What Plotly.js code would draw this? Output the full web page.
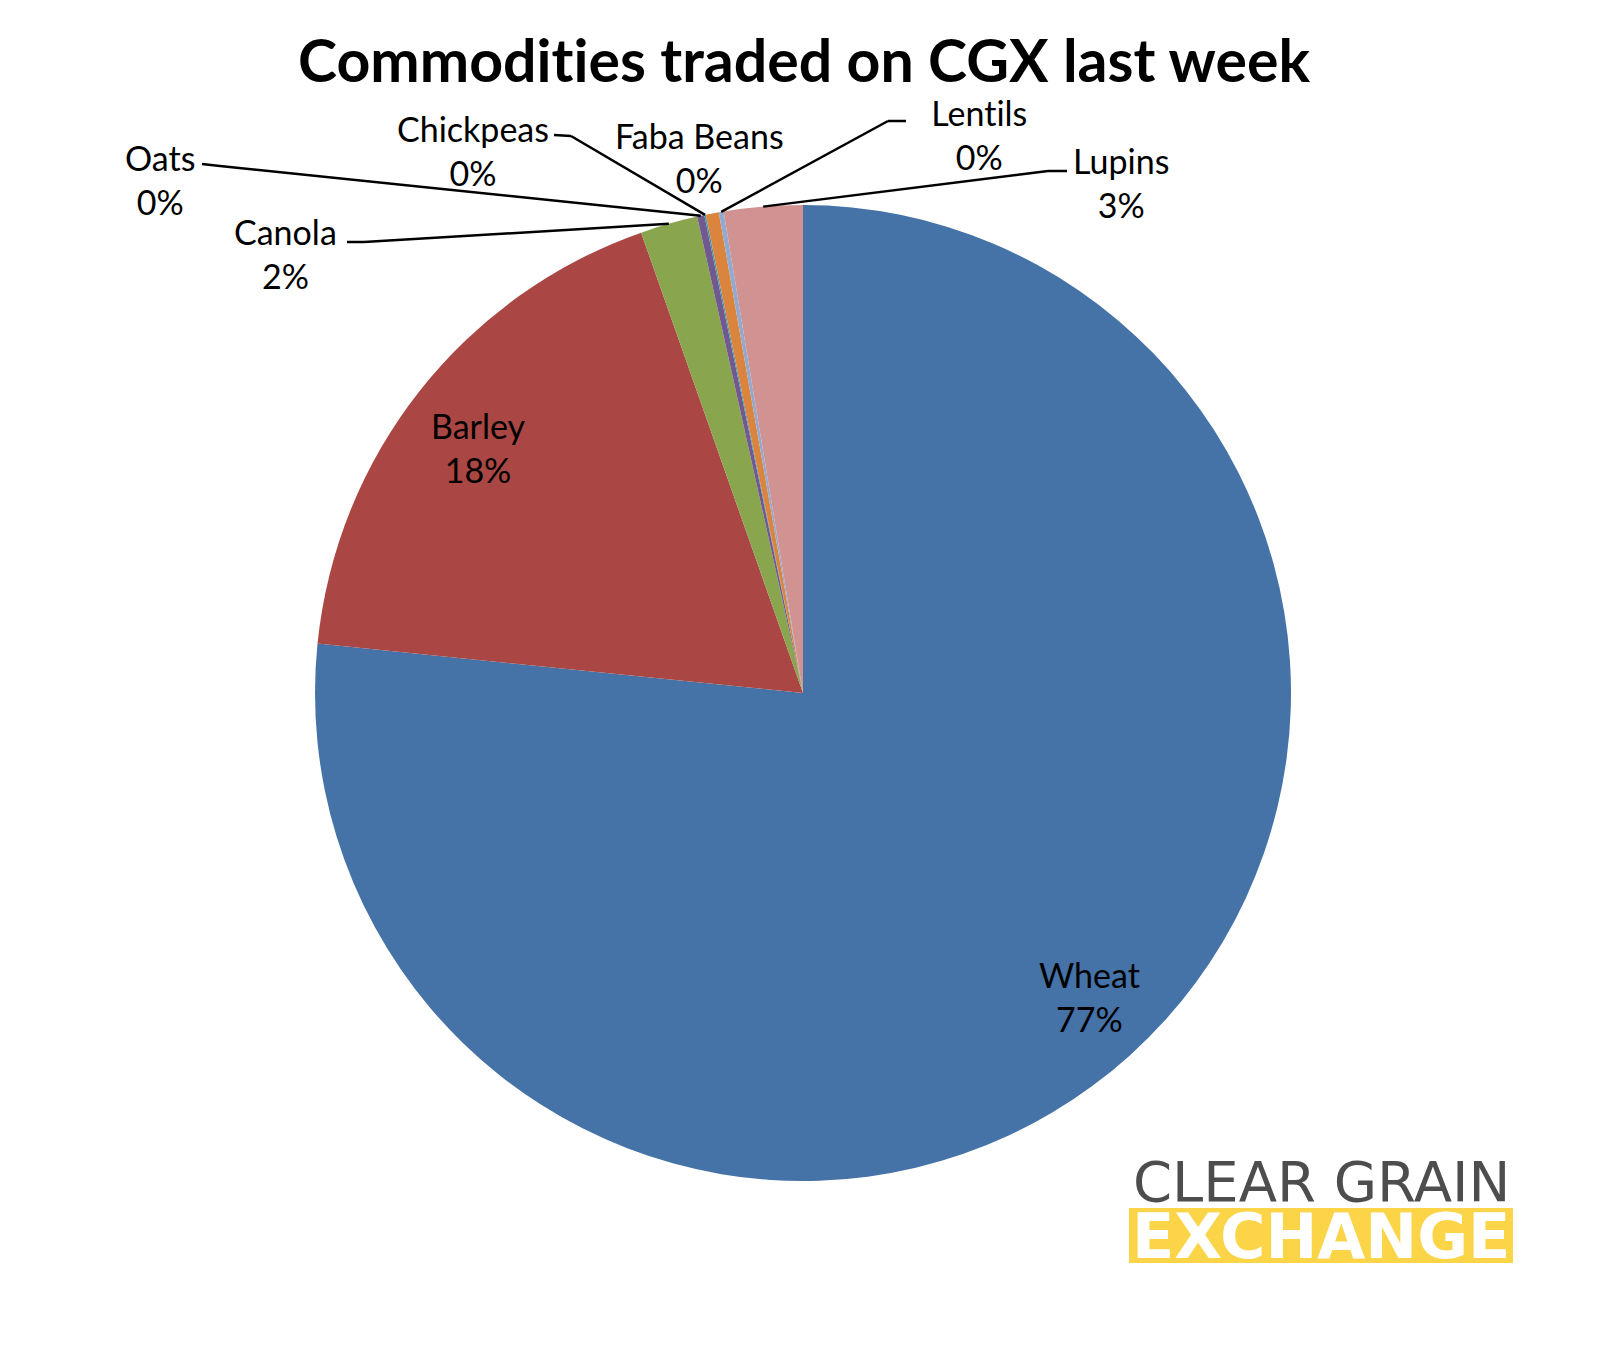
<!DOCTYPE html>
<html>
<head>
<meta charset="utf-8">
<script src="https://cdn.plot.ly/plotly-3.0.1.min.js"></script>
<style>
html,body{margin:0;padding:0;background:#fff;}
#chart{width:1608px;height:1350px;}
#chart text{font-variant-ligatures:none;font-feature-settings:"liga" 0,"clig" 0;}
</style>
</head>
<body>
<div id="chart"></div>
<script>
// ---- data ----
const categories = ['Wheat', 'Barley', 'Canola', 'Oats', 'Chickpeas', 'Faba Beans', 'Lentils', 'Lupins'];
const shares = [76.6, 18.0, 1.9, 0.24, 0.05, 0.43, 0.16, 2.6];
const colors = ['#4572A7', '#AA4643', '#89A54E', '#71588F', '#4198AF', '#DB843D', '#93A9CF', '#D19392'];
const titleText = 'Commodities traded on CGX last week';

// ---- layout constants (pixels) ----
const W = 1608, H = 1350;
const cx = 803, cy = 693, R = 488;
// inside labels: radius fraction and small angular nudge (degrees)
const insideLabels = {'Wheat': {r: 0.855, nudge: -1.2}, 'Barley': {r: 0.834, nudge: -1.2}};
const outsideLabels = {
  'Canola':     {pos: [285, 253], elbow: [[347, 242], [364, 242]]},
  'Oats':       {pos: [160, 180], elbow: [[202, 164], [220, 166]]},
  'Chickpeas':  {pos: [473, 150], elbow: [[554, 135], [571, 136]]},
  'Faba Beans': {pos: [699, 157], elbow: null},
  'Lentils':    {pos: [979, 134], elbow: [[906, 121], [888, 121]]},
  'Lupins':     {pos: [1121, 183], elbow: [[1067, 171], [1048, 171]]}
};
const FONT = 'Lato, "Open Sans", sans-serif';
const px = x => x / W;
const py = y => 1 - y / H;

const total = shares.reduce((a, b) => a + b, 0);
const annotations = [];
const shapes = [];
let cum = 0;
categories.forEach((cat, i) => {
  const frac = shares[i] / total;
  const mid = (cum + frac / 2) * 2 * Math.PI; // clockwise from 12 o'clock
  cum += frac;
  const pct = Math.round(frac * 100) + '%';
  const text = cat + '<br>' + pct;
  if (insideLabels[cat] !== undefined) {
    const L = insideLabels[cat];
    const r = R * L.r;
    const a = mid + L.nudge * Math.PI / 180;
    annotations.push({
      xref: 'paper', yref: 'paper', x: px(cx + r * Math.sin(a)), y: py(cy - r * Math.cos(a)),
      text: text, showarrow: false, xanchor: 'center', yanchor: 'middle',
      font: {family: FONT, size: 34, color: '#000'}
    });
  } else {
    const o = outsideLabels[cat];
    annotations.push({
      xref: 'paper', yref: 'paper', x: px(o.pos[0]), y: py(o.pos[1]),
      text: text, showarrow: false, xanchor: 'center', yanchor: 'middle',
      font: {family: FONT, size: 34, color: '#000'}
    });
    if (o.elbow) {
      const ex = cx + R * Math.sin(mid), ey = cy - R * Math.cos(mid);
      const pts = [o.elbow[0], o.elbow[1], [ex, ey]];
      for (let k = 0; k < pts.length - 1; k++) {
        shapes.push({
          type: 'line', xref: 'paper', yref: 'paper',
          x0: px(pts[k][0]), y0: py(pts[k][1]), x1: px(pts[k + 1][0]), y1: py(pts[k + 1][1]),
          line: {color: '#000', width: 2.5}
        });
      }
    }
  }
});

// logo
shapes.push({type: 'rect', xref: 'paper', yref: 'paper', x0: px(1129), x1: px(1513), y0: py(1263), y1: py(1208),
  fillcolor: '#FCD447', line: {width: 0}, layer: 'above'});
annotations.push({xref: 'paper', yref: 'paper', x: px(1321), y: py(1181), text: 'CLEAR GRAIN', showarrow: false,
  xanchor: 'center', yanchor: 'middle', height: 46, valign: 'middle',
  font: {family: '"DejaVu Sans", sans-serif', size: 56, color: '#4D4D4D'}});
annotations.push({xref: 'paper', yref: 'paper', x: px(1321), y: py(1236), text: 'EXCHANGE', showarrow: false,
  xanchor: 'center', yanchor: 'middle', height: 52, valign: 'middle',
  font: {family: '"DejaVu Sans", sans-serif', size: 62, color: '#FFFFFF', weight: 700}});

const trace = {
  type: 'pie',
  labels: categories,
  values: shares,
  sort: false,
  direction: 'clockwise',
  rotation: 0,
  marker: {colors: colors, line: {width: 0}},
  textinfo: 'none',
  hoverinfo: 'skip',
  domain: {x: [px(cx - R), px(cx + R)], y: [py(cy + R), py(cy - R)]}
};

const layout = {
  width: W, height: H,
  margin: {l: 0, r: 0, t: 0, b: 0},
  paper_bgcolor: '#fff',
  showlegend: false,
  title: {text: '<b>' + titleText + '</b>', x: 0.5, xanchor: 'center', y: py(61), yanchor: 'middle',
    font: {family: FONT, size: 59, color: '#000'}},
  annotations: annotations,
  shapes: shapes
};

Plotly.newPlot('chart', [trace], layout, {displayModeBar: false, staticPlot: true});
</script>
</body>
</html>
